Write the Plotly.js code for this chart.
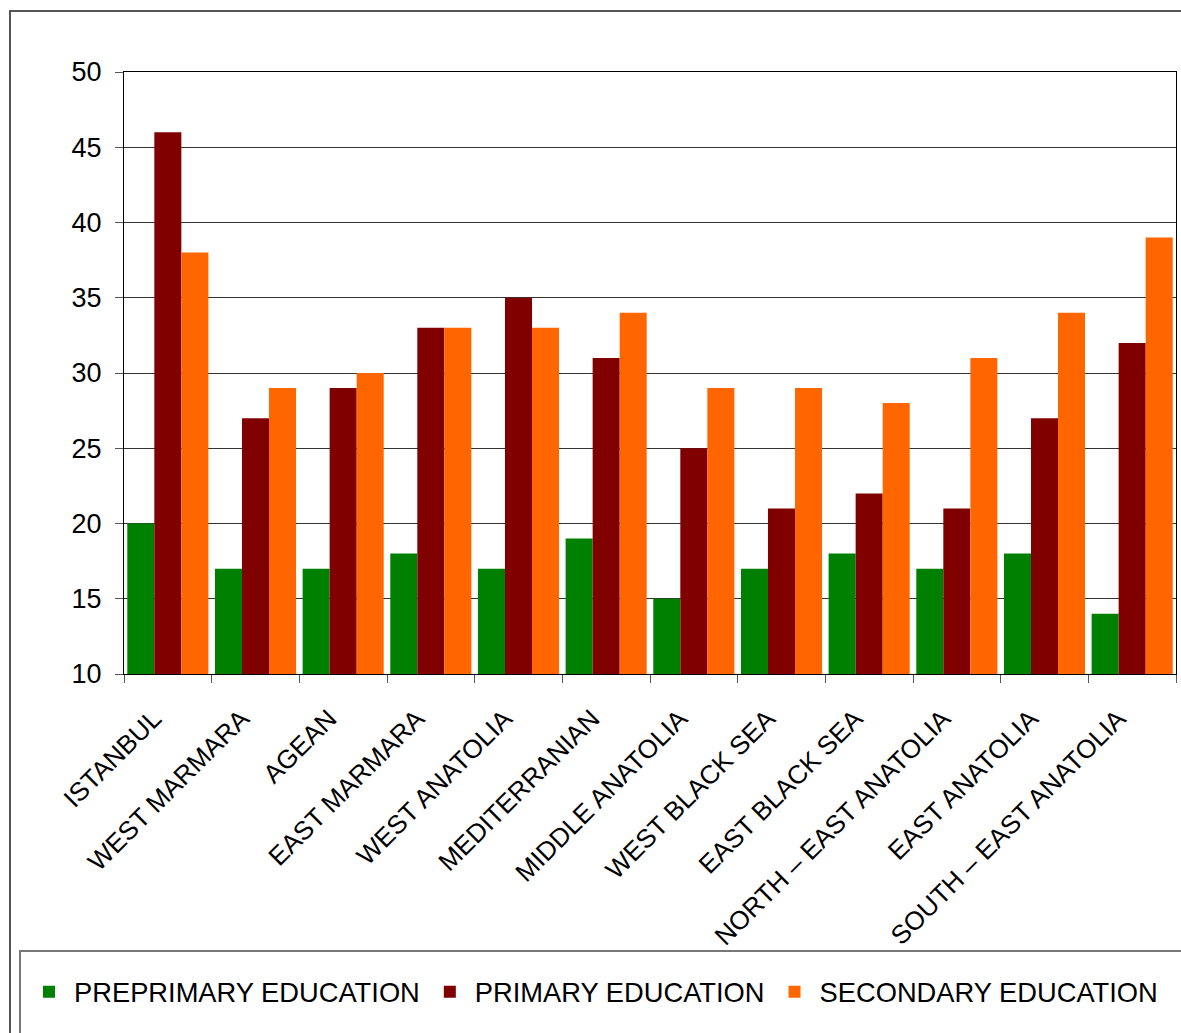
<!DOCTYPE html>
<html>
<head>
<meta charset="utf-8">
<script src="https://cdn.plot.ly/plotly-3.0.1.min.js"></script>
<style>
html,body{margin:0;padding:0;background:#fff;}
#chart{width:1181px;height:1033px;}
</style>
</head>
<body>
<div id="chart"></div>
<script>
var regions = ["ISTANBUL","WEST MARMARA","AGEAN","EAST MARMARA","WEST ANATOLIA","MEDITERRANIAN","MIDDLE ANATOLIA","WEST BLACK SEA","EAST BLACK SEA","NORTH \u2013 EAST ANATOLIA","EAST ANATOLIA","SOUTH \u2013 EAST ANATOLIA"];
var preprimary = [20,17,17,18,17,19,15,17,18,17,18,14];
var primary    = [46,27,29,33,35,31,25,21,22,21,27,32];
var secondary  = [38,29,30,33,33,34,29,29,28,31,34,39];
var seriesNames = ["PREPRIMARY EDUCATION","PRIMARY EDUCATION","SECONDARY EDUCATION"];
var seriesColors = ["#008000","#800000","#FF6600"];
var yTicks = [10,15,20,25,30,35,40,45,50];

var FONT = "Liberation Sans, Arial, sans-serif";
var data = [preprimary, primary, secondary].map(function(vals, i){
  return {
    type: "bar",
    x: regions,
    y: vals,
    name: seriesNames[i],
    marker: {color: seriesColors[i], line: {width: 0}},
    hoverinfo: "x+y+name"
  };
});

// pixel helpers for paper coords (plot area 124..1176 x, 72..674 y)
function px(x){ return (x - 124) / 1052; }
function py(y){ return (674 - y) / 602; }

var layout = {
  width: 1181,
  height: 1033,
  margin: {l: 124, r: 5, t: 72, b: 359, pad: 0},
  paper_bgcolor: "#ffffff",
  plot_bgcolor: "#ffffff",
  font: {family: FONT, color: "#000000"},
  barmode: "group",
  bargap: 0.075,
  bargroupgap: 0,
  showlegend: true,
  legend: {
    orientation: "h",
    x: px(24), xanchor: "left",
    y: py(992), yanchor: "middle",
    itemwidth: 40,
    font: {family: FONT, size: 27.3, color: "#000"},
    bgcolor: "rgba(0,0,0,0)",
    borderwidth: 0,
    itemclick: false
  },
  xaxis: {
    type: "category",
    tickangle: -45,
    tickson: "boundaries",
    ticks: "outside",
    ticklen: 8,
    tickcolor: "#555",
    tickfont: {family: FONT, size: 26, color: "#000"},
    ticklabelstandoff: 18,
    ticklabelshift: -14,
    showline: true,
    linecolor: "#000",
    linewidth: 1,
    mirror: true,
    showgrid: false,
    zeroline: false,
    fixedrange: true
  },
  yaxis: {
    range: [10, 50],
    tickvals: yTicks,
    ticktext: yTicks.map(String),
    ticks: "outside",
    ticklen: 8,
    tickcolor: "#555",
    tickfont: {family: FONT, size: 27, color: "#000"},
    ticklabelstandoff: 8,
    showline: true,
    linecolor: "#000",
    linewidth: 1,
    mirror: true,
    showgrid: true,
    gridcolor: "#333",
    gridwidth: 1,
    zeroline: false,
    fixedrange: true
  },
  shapes: [
    {type: "path", xref: "paper", yref: "paper",
     path: "M" + px(10) + "," + py(1040) + " L" + px(10) + "," + py(11) + " L" + px(1190) + "," + py(11),
     line: {color: "#555", width: 2}},
    {type: "path", xref: "paper", yref: "paper",
     path: "M" + px(1190) + "," + py(951) + " L" + px(20) + "," + py(951) + " L" + px(20) + "," + py(1040),
     line: {color: "#777", width: 2}}
  ]
};

Plotly.newPlot("chart", data, layout, {displayModeBar: false, staticPlot: false});
</script>
</body>
</html>
